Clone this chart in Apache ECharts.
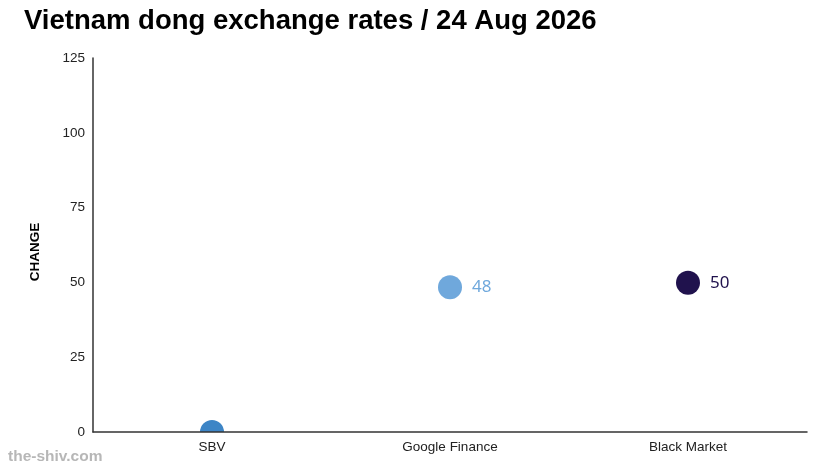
<!DOCTYPE html>
<html>
<head>
<meta charset="utf-8">
<script src="https://cdn.jsdelivr.net/npm/echarts@6/dist/echarts.min.js"></script>
<style>
  html, body { margin: 0; padding: 0; background: #fff; }
  #chart { width: 825px; height: 473px; }
</style>
</head>
<body>
<div id="chart"></div>
<script>
// data
const sources = ['SBV', 'Google Finance', 'Black Market'];
const changes = [0, 48.4, 49.9];
const shownLabels = ['', '48', '50'];
const dotColors = ['#3d85c6', '#6fa8dc', '#20124d'];
const yTicks = [0, 25, 50, 75, 100, 125];

const myChart = echarts.init(document.getElementById('chart'));

option = {
	backgroundColor: '#fff',
	animation: false,
	title: {
		text: 'Vietnam dong exchange rates / 24 Aug 2026',
		left: 19,
		top: 2,
		textStyle: {
			color: '#000',
			fontSize: 27.5,
			fontWeight: 'bold',
			fontFamily: 'Liberation Sans'
		}
	},
	graphic: [{
		type: 'text',
		left: 8,
		top: 449,
		style: {
			text: 'the-shiv.com',
			fill: '#b7b7b7',
			font: 'bold 15.5px Liberation Sans'
		}
	}],
	grid: {
		left: 93,
		right: 18,
		top: 58,
		bottom: 41
	},
	xAxis: {
		type: 'category',
		data: sources,
		z: 10,
		axisLine: { lineStyle: { color: '#333', width: 1.5 } },
		axisTick: {
			inside: true,
			alignWithLabel: true,
			length: 6,
			lineStyle: { color: '#333' }
		},
		axisLabel: {
			color: '#222',
			fontSize: 13.5,
			fontFamily: 'Liberation Sans',
			margin: 8
		}
	},
	yAxis: {
		type: 'value',
		min: yTicks[0],
		max: yTicks[yTicks.length - 1],
		interval: 25,
		name: 'CHANGE',
		nameLocation: 'middle',
		nameGap: 51,
		nameRotate: 90,
		nameTextStyle: {
			color: '#000',
			fontSize: 13.5,
			fontWeight: 'bold',
			fontFamily: 'Liberation Sans',
			padding: [0, 14, 0, 0]
		},
		axisLine: { show: true, lineStyle: { color: '#333', width: 1.5 } },
		axisTick: { show: false },
		splitLine: { show: false },
		axisLabel: {
			color: '#222',
			fontSize: 13.5,
			fontFamily: 'Liberation Sans',
			margin: 8
		}
	},
	series: [{
		type: 'custom',
		clip: true,
		z: 1,
		data: changes.map(function (v, i) { return [i, v]; }),
		renderItem: function (params, api) {
			const i = api.value(0);
			const pt = api.coord([i, api.value(1)]);
			return {
				type: 'circle',
				shape: { cx: pt[0], cy: pt[1], r: 12 },
				style: { fill: dotColors[i] }
			};
		},
		encode: { x: 0, y: 1 }
	}, {
		// value labels beside the dots
		type: 'scatter',
		symbolSize: 24,
		z: 3,
		itemStyle: { color: 'rgba(0,0,0,0)', opacity: 1 },
		label: {
			show: true,
			position: 'right',
			distance: 10,
			fontSize: 17,
			opacity: 1,
			fontFamily: 'Noto Sans',
			formatter: function (p) { return shownLabels[p.dataIndex]; }
		},
		data: changes.map(function (v, i) {
			return {
				value: v,
				label: { color: dotColors[i] }
			};
		})
	}]
};

myChart.setOption(option);
</script>
</body>
</html>
